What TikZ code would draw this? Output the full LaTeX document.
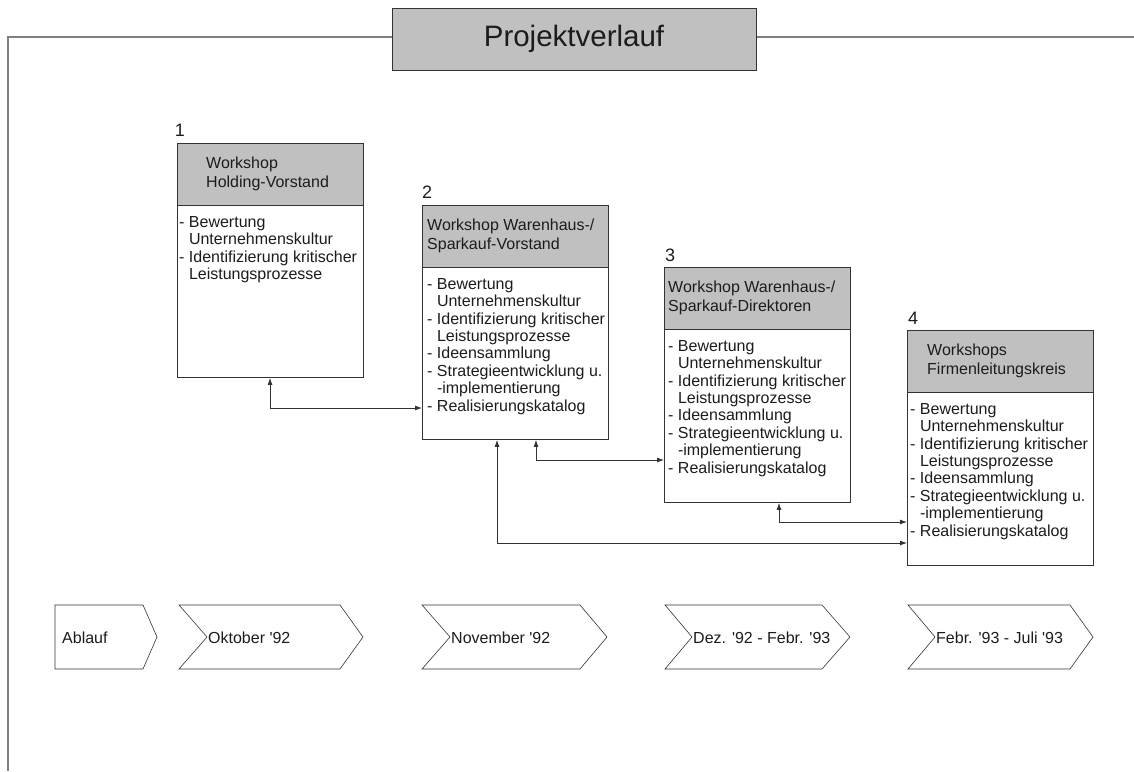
\documentclass[tikz,border=0pt]{standalone}
\usepackage{fontspec}
\setmainfont{Liberation Sans}
\usetikzlibrary{arrows.meta}
\definecolor{headgray}{HTML}{C0C0C0}
\definecolor{framegray}{HTML}{808080}
\definecolor{ink}{HTML}{1E1B1C}
\definecolor{edge}{HTML}{333333}
\newcommand\wsindent{\hspace*{9.8pt}}
\newcommand\apo{\textquotesingle}

\begin{document}
\begin{tikzpicture}[x=1pt,y=-1pt,
  every node/.style={text=ink},
  frameline/.style={draw=framegray,line width=1.5pt},
  titlebox/.style={draw=edge,fill=headgray,line width=0.9pt,minimum width=364pt,minimum height=62pt,inner sep=0pt,font=\fontsize{29.5}{30}\selectfont},
  wsbox/.style={draw=edge,fill=white,line width=0.9pt,minimum width=186pt,anchor=north west,inner sep=0pt},
  wshead/.style={draw=edge,fill=headgray,line width=0.9pt,minimum width=186pt,minimum height=62pt,anchor=north west,inner sep=0pt},
  headtxt/.style={anchor=west,align=left,inner sep=0pt,font=\fontsize{16}{19}\selectfont},
  bodytxt/.style={anchor=north west,align=left,inner sep=0pt,font=\fontsize{16}{17.4}\selectfont},
  numtxt/.style={inner sep=0pt,font=\fontsize{18}{20}\selectfont},
  conn/.style={draw=edge,line width=0.8pt,{Latex[length=7pt,width=5pt]}-{Latex[length=7pt,width=5pt]}},
  phase/.style={draw=edge,line width=0.6pt,fill=white},
  phasetxt/.style={anchor=west,inner sep=0pt,font=\fontsize{16}{18}\selectfont},
]
\useasboundingbox (0,0) rectangle (1134,771);

% outer frame with title
\coordinate (fl) at (8,37);
\coordinate (fr) at (1134,37);
\node[titlebox] (title) at (574,39) {Projektverlauf};
\draw[frameline] (title.west |- fl) -- (fl) -- (8,771);
\draw[frameline] (title.east |- fr) -- (fr);
\node[titlebox] (title) at (574,39) {Projektverlauf};

% workshop 1
\node[numtxt] (n1) at (180,130) {1};
\node[wsbox,minimum height=234pt] (b1) at (177,143) {};
\node[wshead] (h1) at (177,143) {};
\node[headtxt] (ht1) at (206,174) {Workshop\\Holding-Vorstand};
\node[bodytxt] (t1) at (179,216) {- Bewertung\\\wsindent Unternehmenskultur\\- Identifizierung kritischer\\\wsindent Leistungsprozesse};

% workshop 2
\node[numtxt] (n2) at (427,192) {2};
\node[wsbox,minimum height=234pt] (b2) at (422,205) {};
\node[wshead] (h2) at (422,205) {};
\node[headtxt] (ht2) at (427,236) {Workshop Warenhaus-/\\Sparkauf-Vorstand};
\node[bodytxt] (t2) at (427,278) {- Bewertung\\\wsindent Unternehmenskultur\\- Identifizierung kritischer\\\wsindent Leistungsprozesse\\- Ideensammlung\\- Strategieentwicklung u.\\\wsindent-implementierung\\- Realisierungskatalog};

% workshop 3
\node[numtxt] (n3) at (670,255) {3};
\node[wsbox,minimum height=235pt] (b3) at (664,267) {};
\node[wshead] (h3) at (664,267) {};
\node[headtxt] (ht3) at (668,298) {Workshop Warenhaus-/\\Sparkauf-Direktoren};
\node[bodytxt] (t3) at (668,340) {- Bewertung\\\wsindent Unternehmenskultur\\- Identifizierung kritischer\\\wsindent Leistungsprozesse\\- Ideensammlung\\- Strategieentwicklung u.\\\wsindent-implementierung\\- Realisierungskatalog};

% workshop 4
\node[numtxt] (n4) at (913,318) {4};
\node[wsbox,minimum height=235pt] (b4) at (907,330) {};
\node[wshead] (h4) at (907,330) {};
\node[headtxt] (ht4) at (927,361) {Workshops\\Firmenleitungskreis};
\node[bodytxt] (t4) at (910,403) {- Bewertung\\\wsindent Unternehmenskultur\\- Identifizierung kritischer\\\wsindent Leistungsprozesse\\- Ideensammlung\\- Strategieentwicklung u.\\\wsindent-implementierung\\- Realisierungskatalog};

% connectors between workshops
\coordinate (k1) at (270,408);
\coordinate (k2) at (536,460);
\coordinate (k3) at (497,543);
\coordinate (k4) at (779,522);
\draw[conn] (b1.south -| k1) -- (k1) -- (b2.west |- k1);
\draw[conn] (b2.south -| k2) -- (k2) -- (b3.west |- k2);
\draw[conn] (b2.south -| k3) -- (k3) -- (b4.west |- k3);
\draw[conn] (b3.south -| k4) -- (k4) -- (b4.west |- k4);

% time line
\draw[phase] (55,605) -- (143,605) -- (157,637) -- (143,669) -- (55,669) -- cycle;
\node[phasetxt] (p0) at (62,638) {Ablauf};
\draw[phase] (179,605) -- (340,605) -- (363,637) -- (340,669) -- (179,669) -- (207,637) -- cycle;
\node[phasetxt] (p1) at (208,638) {Oktober \apo92};
\draw[phase] (422,605) -- (580,605) -- (607,637) -- (580,669) -- (422,669) -- (450,637) -- cycle;
\node[phasetxt] (p2) at (451,638) {November \apo92};
\draw[phase] (665,605) -- (822,605) -- (850,637) -- (822,669) -- (665,669) -- (692,637) -- cycle;
\node[phasetxt] (p3) at (693,638) {Dez. \apo92 - Febr. \apo93};
\draw[phase] (908,605) -- (1070,605) -- (1093,637) -- (1070,669) -- (908,669) -- (935,637) -- cycle;
\node[phasetxt] (p4) at (936,638) {Febr. \apo93 - Juli \apo93};
\end{tikzpicture}
\end{document}
